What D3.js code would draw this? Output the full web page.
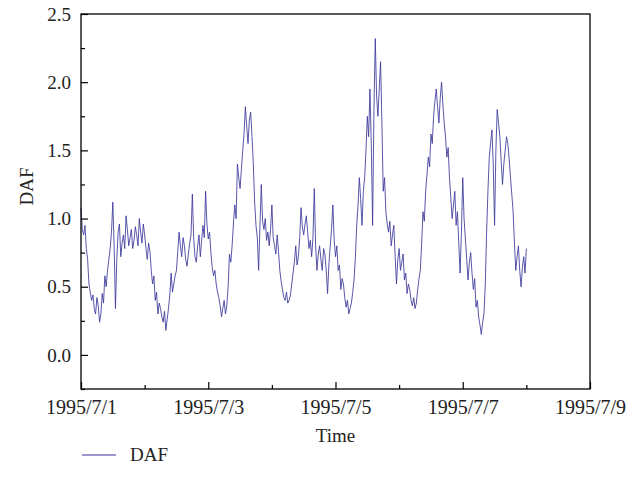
<!DOCTYPE html>
<html>
<head>
<meta charset="utf-8">
<script src="https://cdn.jsdelivr.net/npm/d3@7"></script>
<style>
  body { margin: 0; background: #fff; }
  text { font-family: "Liberation Serif", "DejaVu Serif", serif; }
</style>
</head>
<body>
<div id="container"></div>
<script>
'use strict'
// half-hourly readings, starting 1995/7/1 00:00 (one row per day)
const startTime = new Date(1995, 6, 1, 0, 0);
const dafValues = [
  1.08, 0.92, 0.88, 0.95, 0.78, 0.70, 0.52, 0.46, 0.40, 0.44, 0.34, 0.30, 0.42, 0.36, 0.24, 0.30, 0.45, 0.38, 0.58, 0.50, 0.62, 0.70, 0.78, 0.90,
  1.12, 0.80, 0.34, 0.70, 0.90, 0.96, 0.72, 0.82, 0.88, 0.78, 1.02, 0.92, 0.80, 0.86, 0.92, 0.78, 0.84, 0.94, 0.88, 0.80, 1.00, 0.90, 0.82, 0.96,
  0.88, 0.78, 0.70, 0.82, 0.76, 0.62, 0.52, 0.58, 0.40, 0.46, 0.30, 0.38, 0.34, 0.28, 0.24, 0.32, 0.18, 0.26, 0.34, 0.44, 0.60, 0.46, 0.52, 0.58,
  0.62, 0.76, 0.90, 0.80, 0.72, 0.86, 0.80, 0.70, 0.65, 0.74, 0.82, 0.88, 1.18, 0.86, 0.72, 0.68, 0.80, 0.88, 0.72, 0.84, 0.95, 0.86, 1.20, 0.96,
  0.85, 0.90, 0.75, 0.64, 0.58, 0.62, 0.52, 0.46, 0.42, 0.36, 0.28, 0.34, 0.40, 0.30, 0.36, 0.50, 0.74, 0.68, 0.80, 0.96, 1.10, 1.00, 1.40, 1.30,
  1.22, 1.36, 1.50, 1.62, 1.82, 1.68, 1.55, 1.72, 1.78, 1.60, 1.40, 1.12, 0.95, 0.86, 0.62, 0.94, 1.25, 0.98, 0.92, 1.00, 0.84, 0.90, 0.80, 0.92,
  1.10, 0.86, 0.80, 0.74, 0.88, 0.76, 0.62, 0.54, 0.48, 0.42, 0.40, 0.46, 0.38, 0.40, 0.44, 0.52, 0.60, 0.68, 0.80, 0.66, 0.72, 0.86, 1.08, 0.94,
  0.88, 0.96, 1.02, 0.90, 0.78, 0.84, 0.72, 0.86, 1.22, 0.80, 0.62, 0.74, 0.80, 0.70, 0.62, 0.78, 0.74, 0.62, 0.45, 0.66, 0.80, 0.92, 1.10, 0.84,
  0.72, 0.80, 0.62, 0.66, 0.48, 0.56, 0.52, 0.42, 0.35, 0.40, 0.30, 0.34, 0.38, 0.46, 0.55, 0.72, 0.95, 1.10, 1.30, 1.14, 0.95, 1.20, 1.30, 1.50,
  1.75, 1.60, 1.95, 1.55, 0.95, 1.80, 2.32, 1.90, 1.75, 1.95, 2.15, 1.70, 1.20, 1.30, 1.05, 0.96, 0.90, 0.98, 0.80, 0.88, 0.95, 0.72, 0.52, 0.70,
  0.78, 0.62, 0.68, 0.74, 0.55, 0.60, 0.45, 0.52, 0.48, 0.40, 0.36, 0.42, 0.34, 0.38, 0.48, 0.56, 0.62, 0.82, 1.05, 0.98, 1.20, 1.32, 1.45, 1.38,
  1.62, 1.55, 1.75, 1.86, 1.95, 1.82, 1.70, 1.88, 2.00, 1.84, 1.70, 1.60, 1.45, 1.52, 1.30, 1.15, 1.00, 1.10, 1.20, 0.95, 1.05, 0.82, 0.60, 0.90,
  1.30, 1.00, 0.85, 0.70, 0.55, 0.68, 0.75, 0.60, 0.48, 0.56, 0.35, 0.40, 0.28, 0.22, 0.15, 0.24, 0.30, 0.52, 0.90, 1.20, 1.45, 1.55, 1.65, 1.40,
  0.95, 1.50, 1.80, 1.70, 1.60, 1.42, 1.25, 1.40, 1.50, 1.60, 1.55, 1.44, 1.30, 1.18, 1.05, 0.82, 0.62, 0.72, 0.80, 0.62, 0.50, 0.64, 0.72, 0.60,
  0.78
];
const yTickValues = [0, 0.5, 1, 1.5, 2, 2.5];
const yMinorValues = [-0.25, 0.25, 0.75, 1.25, 1.75, 2.25];
const xTickLabels = ["1995/7/1", "1995/7/3", "1995/7/5", "1995/7/7", "1995/7/9"];
const xMinorLabels = ["1995/7/2", "1995/7/4", "1995/7/6", "1995/7/8"];

const w = 639;
const h = 494;
const mLeft = 81, mRight = 590, mTop = 14, mBottom = 389;
const lineColor = "#3b379a";

const parseDay = d3.timeParse("%Y/%m/%d");
const data = dafValues.map((v, i) => ({ t: d3.timeMinute.offset(startTime, i * 30), v: v }));

const svg = d3.select("#container")
              .append("svg")
              .attr("width", w)
              .attr("height", h);

//Scales
const xScale = d3.scaleTime()
                 .domain([parseDay(xTickLabels[0]), parseDay(xTickLabels[xTickLabels.length - 1])])
                 .range([mLeft, mRight]);

const yScale = d3.scaleLinear()
                 .domain([-0.25, 2.5])
                 .range([mBottom, mTop]);

//Line
const line = d3.line()
               .x(d => xScale(d.t))
               .y(d => yScale(d.v));

svg.append("path")
   .datum(data)
   .attr("d", line)
   .attr("fill", "none")
   .attr("stroke", lineColor)
   .attr("stroke-width", 0.85)
   .attr("stroke-linejoin", "miter");

//Axes (ticks pointing inside)
const yAxis = d3.axisLeft(yScale)
                .tickValues(yTickValues)
                .tickFormat(d3.format(".1f"))
                .tickSizeInner(-7).tickSizeOuter(0).tickPadding(10);
const gy = svg.append("g").attr("transform", "translate(" + mLeft + ",0)").call(yAxis);

const yMinor = d3.axisLeft(yScale).tickValues(yMinorValues).tickFormat("")
                 .tickSizeInner(-4).tickSizeOuter(0);
svg.append("g").attr("transform", "translate(" + mLeft + ",0)").call(yMinor);

const xAxis = d3.axisBottom(xScale)
                .tickValues(xTickLabels.map(parseDay))
                .tickFormat(d3.timeFormat("%Y/%-m/%-d"))
                .tickSizeInner(-7).tickSizeOuter(0).tickPadding(11);
const gx = svg.append("g").attr("transform", "translate(0," + mBottom + ")").call(xAxis);

const xMinor = d3.axisBottom(xScale).tickValues(xMinorLabels.map(parseDay)).tickFormat("")
                 .tickSizeInner(-4).tickSizeOuter(0);
svg.append("g").attr("transform", "translate(0," + mBottom + ")").call(xMinor);

svg.selectAll(".domain").remove();
svg.selectAll(".tick line").attr("stroke", "#000").attr("stroke-width", 1.2);
gy.selectAll("text")
  .style("font-family", '"Liberation Serif", serif')
  .style("font-size", "19px").attr("fill", "#222");
gx.selectAll("text")
  .style("font-family", '"Liberation Serif", serif')
  .style("font-size", "20px").attr("fill", "#222");

//Frame
svg.append("rect")
   .attr("x", mLeft).attr("y", mTop)
   .attr("width", mRight - mLeft).attr("height", mBottom - mTop)
   .attr("fill", "none").attr("stroke", "#000").attr("stroke-width", 1.3);

//Axis titles
svg.append("text")
   .attr("transform", "rotate(-90)")
   .attr("x", -(mTop + mBottom) / 2 + 15).attr("y", 33)
   .style("text-anchor", "middle").style("font-size", "19px").attr("fill", "#222")
   .text("DAF");

svg.append("text")
   .attr("x", (mLeft + mRight) / 2).attr("y", 442)
   .style("text-anchor", "middle").style("font-size", "19px").attr("fill", "#222")
   .text("Time");

//Legend
svg.append("line")
   .attr("x1", 82).attr("x2", 116).attr("y1", 455).attr("y2", 455)
   .attr("stroke", lineColor).attr("stroke-width", 1.2);

svg.append("text")
   .attr("x", 130).attr("y", 461)
   .style("text-anchor", "start").style("font-size", "19px").attr("fill", "#222")
   .text("DAF");
</script>
</body>
</html>
